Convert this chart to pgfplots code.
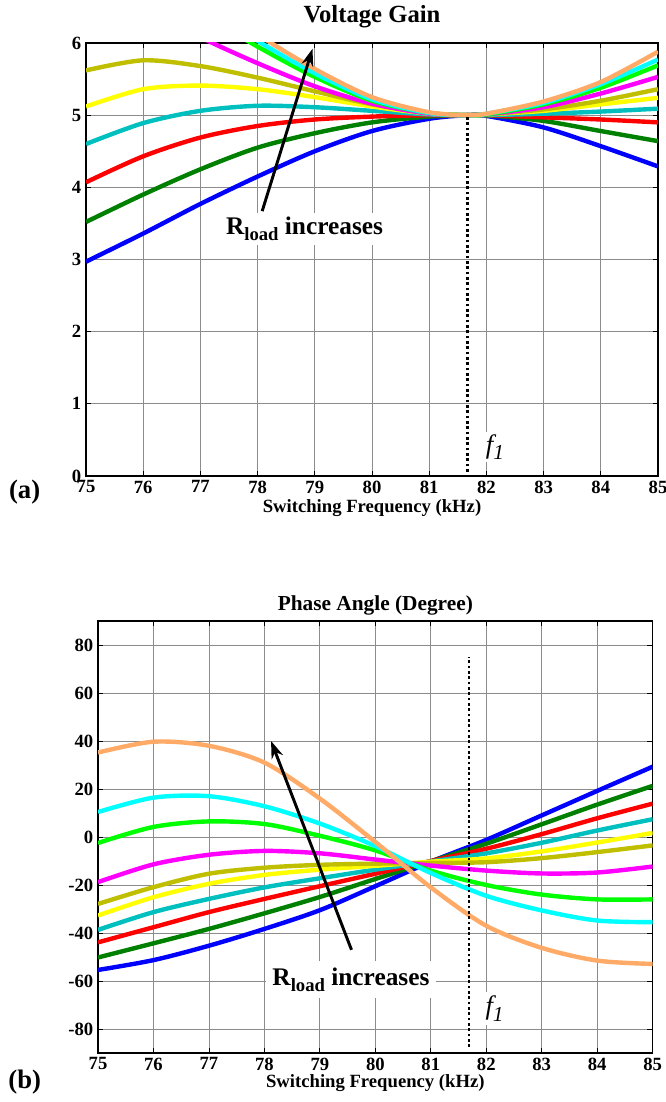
\documentclass[border=0pt]{standalone}
\usepackage{fontspec}
\setmainfont{Liberation Serif}
\usepackage{pgfplots}
\usepackage{pgfplotstable}
\pgfplotsset{compat=1.18}
\usetikzlibrary{arrows.meta}

\definecolor{mlblue}{rgb}{0,0,1}
\definecolor{mldkgreen}{rgb}{0,0.5,0}
\definecolor{mlred}{rgb}{1,0,0}
\definecolor{mlteal}{rgb}{0,0.75,0.75}
\definecolor{mlyellow}{rgb}{1,1,0}
\definecolor{mlolive}{rgb}{0.75,0.75,0}
\definecolor{mlmagenta}{rgb}{1,0,1}
\definecolor{mlgreen}{rgb}{0,1,0}
\definecolor{mlcyan}{rgb}{0,1,1}
\definecolor{mlorange}{HTML}{FFAA66}

% voltage gain vs switching frequency, one column per load
\pgfplotstableread{
x     blue dkg  red  teal yel  olive mag  grn  cyan org
75    2.97 3.52 4.07 4.60 5.12 5.62 6.96 7.40 7.70 8.00
76    3.36 3.90 4.43 4.89 5.36 5.76 6.50 6.92 7.12 7.30
77    3.77 4.25 4.69 5.06 5.41 5.68 6.08 6.42 6.55 6.68
78    4.15 4.55 4.85 5.13 5.36 5.52 5.72 5.95 6.03 6.12
79    4.50 4.75 4.94 5.11 5.25 5.33 5.40 5.53 5.58 5.64
80    4.78 4.90 4.98 5.06 5.12 5.15 5.16 5.20 5.22 5.25
81    4.95 4.98 5.00 5.01 5.02 5.03 5.02 5.03 5.03 5.04
81.67 5.00 5.00 5.00 5.00 5.00 5.00 5.00 5.00 5.00 5.00
82    4.99 5.00 5.00 5.00 5.01 5.01 5.01 5.01 5.02 5.02
83    4.83 4.92 4.97 5.02 5.06 5.08 5.11 5.15 5.17 5.19
84    4.57 4.78 4.94 5.05 5.15 5.20 5.30 5.38 5.43 5.46
85    4.29 4.64 4.90 5.09 5.24 5.36 5.53 5.69 5.77 5.88
}\gaintable

% phase angle (degree)
\pgfplotstableread{
x   blue  dkg   red   teal  yel   olive mag   grn   cyan  org
75  -55.4 -50.2 -43.9 -38.7 -32.7 -27.9 -18.8 -2.5  10.4  35.2
76  -51.3 -44.3 -37.6 -31.3 -25.1 -20.9 -11.4 4.2   16.4  39.7
77  -45.3 -38.3 -31.3 -25.8 -19.5 -15.3 -7.4  6.5   17.0  38.0
78  -38.3 -31.8 -25.8 -21.0 -15.8 -12.8 -5.8  5.4   12.8  31.0
79  -30.5 -25.0 -20.5 -17.2 -13.6 -11.6 -6.8  0.5   5.6   16.0
80  -20.5 -17.5 -15.3 -13.6 -12.0 -11.1 -9.4  -5.6  -3.8  -2.1
81  -10.3 -10.1 -10.0 -10.2 -10.3 -10.8 -11.9 -14.0 -15.0 -21.0
82  -1.2  -2.8  -4.9  -6.8  -8.9  -10.5 -14.0 -20.0 -24.5 -37.0
83  9.0   5.3   1.2   -2.4  -6.0  -8.8  -15.2 -24.0 -30.6 -46.2
84  19.2  13.5  7.8   2.7   -2.3  -6.3  -14.8 -26.0 -34.8 -51.5
85  29.3  21.3  13.9  7.4   1.7   -3.5  -12.3 -26.0 -35.5 -52.9
}\phasetable

\pgfplotsset{
  mlaxis/.style={
    scale only axis,
    anchor=north west,
    xmin=75, xmax=85,
    xtick={75,76,77,78,79,80,81,82,83,84,85},
    xticklabels={75,76,77,78,79,80,81,82,83,84,85},
    grid=major,
    major grid style={draw=black!45, line width=0.6pt},
    axis line style={line width=1.2pt},
    tick align=inside,
    major tick length=4pt,
    tick style={black, line width=0.6pt},
    ticklabel style={font=\fontsize{14}{14}\selectfont\bfseries},
    xlabel={Switching Frequency (kHz)},
    xlabel style={font=\fontsize{14}{14}\selectfont\bfseries, at={(0.5,0)}, anchor=center},
    every axis plot/.append style={line width=3.3pt, smooth, no marks},
  },
}

\begin{document}
\begin{tikzpicture}
\begin{axis}[mlaxis,
  at={(64.5pt,-32.25pt)}, width=429pt, height=324.75pt,
  ymin=0, ymax=6, ytick={0,1,2,3,4,5,6}, yticklabels={0,1,2,3,4,5,6},
  title={Voltage Gain},
  title style={font=\fontsize{18.5}{18.5}\selectfont\bfseries, at={(0.5,1)}, anchor=center, yshift=13.5pt},
  xlabel style={yshift=-24pt},
]
\addplot[mlblue] table[y=blue] {\gaintable};
\addplot[mldkgreen] table[y=dkg] {\gaintable};
\addplot[mlred] table[y=red] {\gaintable};
\addplot[mlteal] table[y=teal] {\gaintable};
\addplot[mlyellow] table[y=yel] {\gaintable};
\addplot[mlolive] table[y=olive] {\gaintable};
\addplot[mlmagenta] table[y=mag] {\gaintable};
\addplot[mlgreen] table[y=grn] {\gaintable};
\addplot[mlcyan] table[y=cyan] {\gaintable};
\addplot[mlorange] table[y=org] {\gaintable};
\addplot[black, line width=2pt, dash pattern=on 2pt off 2pt, sharp plot] coordinates {(81.67,0.06) (81.67,5)};
\node[fill=white, inner sep=3pt, font=\fontsize{19}{19}\selectfont\bfseries] at (axis cs:78.82,3.42)
  {R\raisebox{-0.5ex}{\fontsize{14}{14}\selectfont load} increases};
\draw[line width=2.2pt, -{Stealth[length=13pt,width=9pt]}] (axis cs:78.08,3.67) -- (axis cs:78.96,5.92);
\node[fill=white, inner sep=2pt, font=\fontsize{20}{20}\selectfont\itshape] at (axis cs:82.15,0.4)
  {f\raisebox{-0.5ex}{\fontsize{16}{16}\selectfont 1}};
\end{axis}

\begin{axis}[mlaxis,
  at={(73.5pt,-465.75pt)}, width=416pt, height=324pt,
  ymin=-90, ymax=90, ytick={-80,-60,-40,-20,0,20,40,60,80},
  yticklabels={-80,-60,-40,-20,0,20,40,60,80},
  title={Phase Angle (Degree)},
  title style={font=\fontsize{16}{16}\selectfont\bfseries, at={(0.5,1)}, anchor=center, yshift=6pt},
  xlabel style={yshift=-22.5pt},
]
\addplot[mlblue] table[y=blue] {\phasetable};
\addplot[mldkgreen] table[y=dkg] {\phasetable};
\addplot[mlred] table[y=red] {\phasetable};
\addplot[mlteal] table[y=teal] {\phasetable};
\addplot[mlyellow] table[y=yel] {\phasetable};
\addplot[mlolive] table[y=olive] {\phasetable};
\addplot[mlmagenta] table[y=mag] {\phasetable};
\addplot[mlgreen] table[y=grn] {\phasetable};
\addplot[mlcyan] table[y=cyan] {\phasetable};
\addplot[mlorange] table[y=org] {\phasetable};
\addplot[black, line width=2pt, dash pattern=on 2pt off 2pt, sharp plot] coordinates {(81.69,-87.5) (81.69,75)};
\node[fill=white, inner sep=5pt, font=\fontsize{19}{19}\selectfont\bfseries] at (axis cs:79.56,-59.5)
  {R\raisebox{-0.5ex}{\fontsize{14}{14}\selectfont load} increases};
\draw[line width=2.2pt, -{Stealth[length=13pt,width=9pt]}] (axis cs:79.57,-47) -- (axis cs:78.12,40);
\node[fill=white, inner sep=3pt, font=\fontsize{20}{20}\selectfont\itshape] at (axis cs:82.15,-71.5)
  {f\raisebox{-0.5ex}{\fontsize{16}{16}\selectfont 1}};
\end{axis}

\node[font=\fontsize{20}{20}\selectfont\bfseries] at (18.5pt,-369pt) {(a)};
\node[font=\fontsize{20}{20}\selectfont\bfseries] at (18.5pt,-811.5pt) {(b)};
\pgfresetboundingbox
\useasboundingbox (0,0) rectangle (499.5pt,-826.5pt);
\end{tikzpicture}
\end{document}
